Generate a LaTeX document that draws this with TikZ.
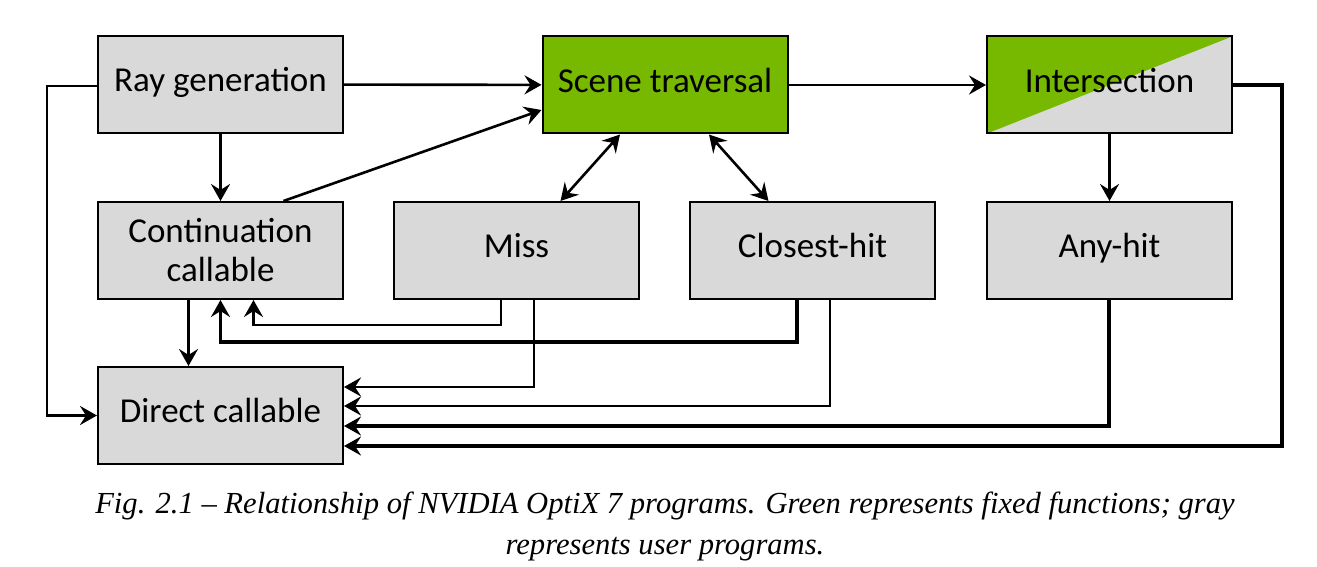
\documentclass[tikz,border=0pt]{standalone}
\usepackage{fontspec}
\setsansfont{Carlito}
\newfontfamily\captionfont[Ligatures=TeX]{Liberation Serif}
\usetikzlibrary{arrows.meta}
\usetikzlibrary{calc}
\definecolor{nvgreen}{HTML}{76B900}
\definecolor{usergray}{HTML}{D9D9D9}
\tikzstyle{prog}=[rectangle, draw, line width=1pt, fill=usergray, minimum width=122.5pt, minimum height=48.5pt, inner sep=2pt, align=center, font=\sffamily\fontsize{17.5}{19.5}\selectfont]
\tikzstyle{oneline}=[prog, text height=11.5pt, text depth=4.2pt]
\tikzstyle{fixed}=[oneline, fill=nvgreen]
\tikzstyle{thinlink}=[line width=1.3pt]
\tikzstyle{thicklink}=[line width=1.8pt]
\tikzstyle{captext}=[font=\captionfont\itshape\fontsize{15.3}{20}\selectfont, anchor=base, inner sep=0pt]
\tikzset{>={Stealth[length=8.5pt, width=9.5pt, inset=3pt]}}

\begin{document}
\begin{tikzpicture}[x=0.5pt, y=-0.5pt]
\useasboundingbox (0,0) rectangle (1317,567);

\node[oneline] (raygen) at (220.5, 84.5) {Ray generation};
\node[fixed] (scene) at (665, 85) {Scene traversal};
\node[oneline, path picture={\fill[nvgreen] (path picture bounding box.south west) -- (path picture bounding box.north west) -- (path picture bounding box.north east) -- cycle;}] (inter) at (1109.5, 85) {Intersection};

\node[prog] (cont) at (220.5, 250.5) {Continuation\\callable};
\node[oneline] (miss) at (516.5, 250.5) {Miss};
\node[oneline] (closest) at (812.5, 250.5) {Closest-hit};
\node[oneline] (anyhit) at (1109.5, 250.5) {Any-hit};

\node[oneline] (direct) at (220.5, 415.5) {Direct callable};

% turning points of the return paths
\coordinate (lft) at (47, 86);
\coordinate (mc) at (501, 325);
\coordinate (cc) at (797, 342);
\coordinate (md) at (534, 387);
\coordinate (cd) at (830, 406);
\coordinate (ad) at (1109, 426);
\coordinate (id) at (1282, 446);

\draw[thinlink, ->] (raygen) -- (scene);
\draw[thinlink, ->] (scene) -- (inter);
\draw[thinlink, ->] (raygen) -- (cont);
\draw[thinlink, ->] (inter) -- (anyhit);
\draw[thinlink, ->] ([xshift=31.5pt]cont.north) -- ([yshift=-12.5pt]scene.west);
\draw[thinlink, <->] ([xshift=-22.5pt]scene.south) -- ([xshift=22pt]miss.north);
\draw[thinlink, <->] ([xshift=22pt]scene.south) -- ([xshift=-22pt]closest.north);

\draw[thinlink, ->] (raygen.west |- lft) -- (lft) |- (direct.west);
\draw[thicklink, ->] ([xshift=-16pt]cont.south) -- ([xshift=-16pt]direct.north);
\draw[thinlink, ->] (miss.south -| mc) |- (mc) -| ([xshift=16.5pt]cont.south);
\draw[thicklink, ->] (closest.south -| cc) |- (cc) -| (cont.south);
\draw[thinlink, ->] (miss.south -| md) |- (direct.east |- md);
\draw[thinlink, ->] (closest.south -| cd) |- (direct.east |- cd);
\draw[thicklink, ->] (anyhit.south -| ad) |- (direct.east |- ad);
\draw[thicklink, ->] (inter.east) -- (inter.east -| id) |- (direct.east |- id);

\node[captext] (caption) at (665, 513) {Fig. 2.1 -- Relationship of NVIDIA OptiX 7 programs. Green represents fixed functions; gray};
\node[captext] (caption2) at (665, 554) {represents user programs.};
\end{tikzpicture}
\end{document}
